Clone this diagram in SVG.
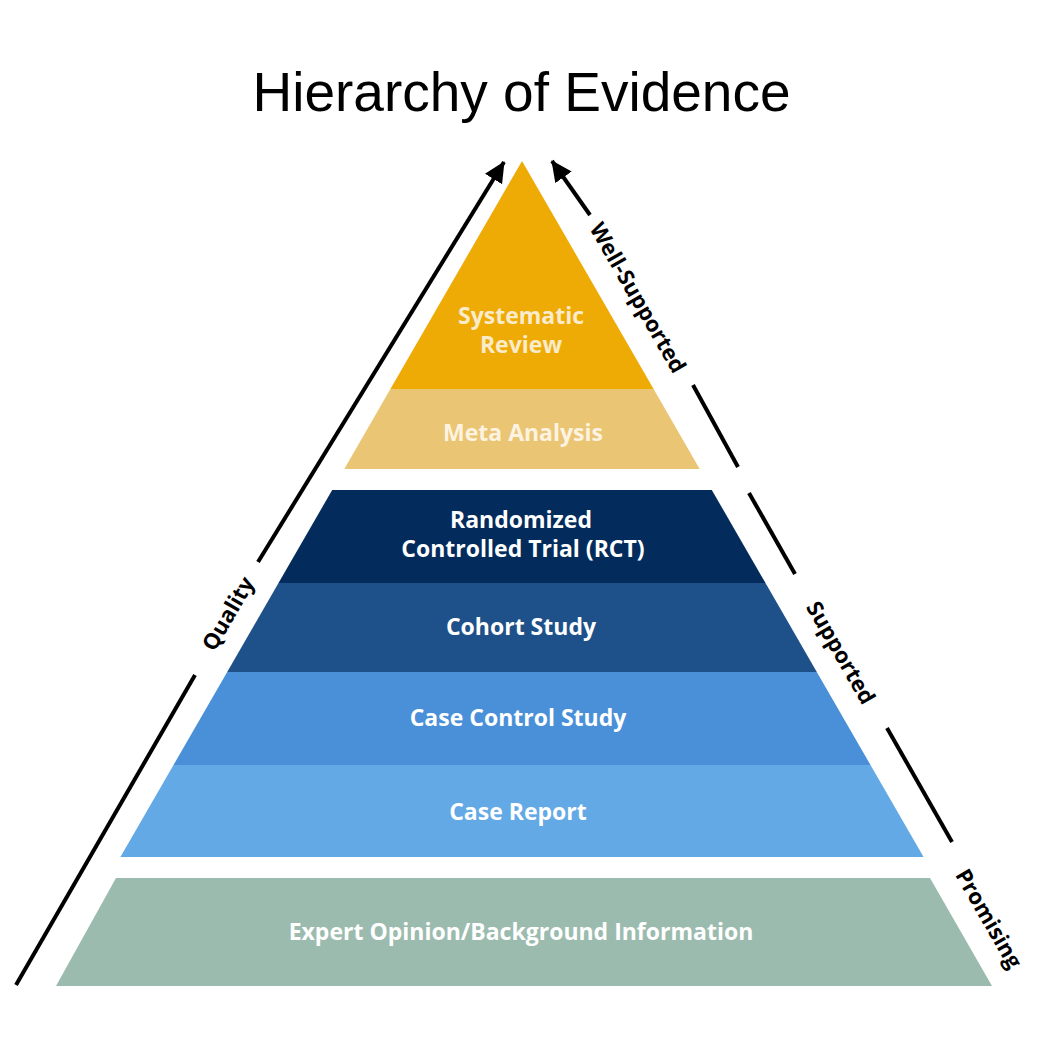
<svg xmlns="http://www.w3.org/2000/svg" width="1058" height="1058" viewBox="0 0 1058 1058">
  <defs>
    <marker id="arrow" markerUnits="userSpaceOnUse" markerWidth="24" markerHeight="22" refX="20" refY="10" orient="auto">
      <path d="M0,0 L21,10 L0,20 Z" fill="#000"/>
    </marker>
    <style>
      .title { font-family: "Liberation Sans", Arial, sans-serif; font-size: 55px; fill: #000; }
      .lbl { font-family: "Open Sans", "Noto Sans", sans-serif; font-weight: 700; font-size: 23px; fill: #fff; text-anchor: middle; }
      .side { font-family: "Open Sans", "Noto Sans", sans-serif; font-weight: 700; font-size: 22px; fill: #000; text-anchor: middle; dominant-baseline: central; }
      .ln { stroke: #000; stroke-width: 4; fill: none; stroke-linecap: butt; }
    </style>
  </defs>
  <rect width="1058" height="1058" fill="#fff"/>

  <text class="title" x="521.5" y="111" text-anchor="middle">Hierarchy of Evidence</text>

  <g id="systematic-review">
    <polygon points="522,161 653.6,389 390.4,389" fill="#EEAA05"/>
    <text class="lbl" x="521" y="324" style="fill:#FAEBCB">Systematic</text>
    <text class="lbl" x="521" y="353" style="fill:#FAEBCB">Review</text>
  </g>
  <g id="meta-analysis">
    <polygon points="390.4,389 653.6,389 699.7,469 344.3,469" fill="#EAC574"/>
    <text class="lbl" x="523" y="441" style="fill:#FDF3E0">Meta Analysis</text>
  </g>
  <g id="rct">
    <polygon points="332.2,490 711.8,490 765.5,583 278.5,583" fill="#032C5C"/>
    <text class="lbl" x="521" y="528">Randomized</text>
    <text class="lbl" x="523" y="557">Controlled Trial (RCT)</text>
  </g>
  <g id="cohort-study">
    <polygon points="278.5,583 765.5,583 816.8,672 227.2,672" fill="#1E5189"/>
    <text class="lbl" x="521" y="635">Cohort Study</text>
  </g>
  <g id="case-control-study">
    <polygon points="227.2,672 816.8,672 870.5,765 173.5,765" fill="#4A90D8"/>
    <text class="lbl" x="518" y="726">Case Control Study</text>
  </g>
  <g id="case-report">
    <polygon points="173.5,765 870.5,765 923.6,857 120.4,857" fill="#63A9E5"/>
    <text class="lbl" x="518" y="820">Case Report</text>
  </g>
  <g id="expert-opinion">
    <polygon points="116,878 930,878 992,986 56,986" fill="#9CBBAF"/>
    <text class="lbl" x="521" y="940">Expert Opinion/Background Information</text>
  </g>

  <g id="connectors">
    <line class="ln" x1="16" y1="985" x2="195" y2="675"/>
    <line class="ln" x1="258" y1="562" x2="504" y2="162" marker-end="url(#arrow)"/>
    <line class="ln" x1="590" y1="215" x2="552" y2="161" marker-end="url(#arrow)"/>
    <line class="ln" x1="693" y1="385" x2="738" y2="467"/>
    <line class="ln" x1="749" y1="493" x2="795" y2="574"/>
    <line class="ln" x1="887" y1="728" x2="952" y2="842"/>
  </g>

  <g id="side-labels">
    <text class="side" transform="translate(227,613) rotate(-60)">Quality</text>
    <text class="side" transform="translate(639,297) rotate(60)">Well-Supported</text>
    <text class="side" transform="translate(842,652) rotate(60)">Supported</text>
    <text class="side" transform="translate(990,918) rotate(60)">Promising</text>
  </g>
</svg>
